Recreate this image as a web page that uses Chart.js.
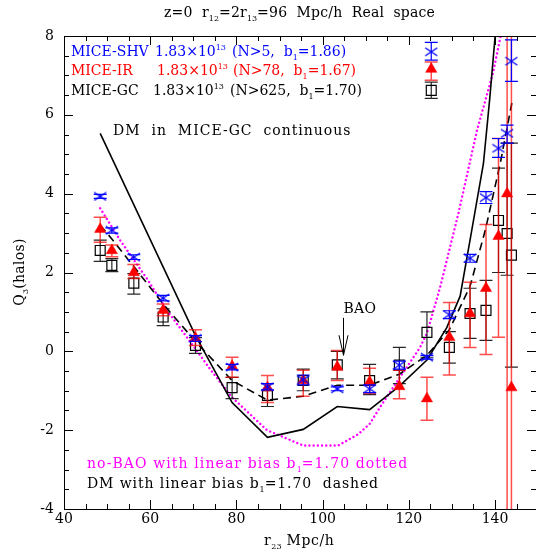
<!DOCTYPE html>
<html>
<head>
<meta charset="utf-8">
<script src="https://cdn.jsdelivr.net/npm/chart.js@4.4.1/dist/chart.umd.min.js"></script>
<style>
  html, body { margin: 0; padding: 0; background: #fff; overflow: hidden; }
  canvas { display: block; }
</style>
</head>
<body>
<canvas id="q3Chart" width="536" height="556"></canvas>
<script>
// r23 of each triangle configuration (Mpc/h), one per column of points
const r23 = [48.4, 51.1, 56.2, 63.0, 70.5, 79.0, 87.2, 95.5, 103.4, 110.9, 117.8, 124.2, 129.4, 134.2, 137.9, 140.8, 142.8, 143.8];

// MICE-SHV halos (blue crosses)
const shvQ3 = [3.93, 3.07, 2.39, 1.35, 0.33, -0.40, -0.90, -0.72, -0.95, -0.95, -0.35, -0.15, 0.93, 2.36, 3.90, 5.15, 5.53, 7.36];
const shvLo = [3.88, 3.00, 2.33, 1.28, 0.25, -0.47, -0.98, -0.85, -1.00, -1.05, -0.45, -0.20, 0.83, 2.26, 3.75, 4.92, 5.28, 6.85];
const shvHi = [3.98, 3.13, 2.45, 1.42, 0.40, -0.33, -0.82, -0.60, -0.90, -0.85, -0.25, -0.10, 1.03, 2.46, 4.05, 5.40, 5.74, 7.90];

// MICE-IR halos (red triangles)
const irQ3 = [3.10, 2.56, 2.00, 1.04, 0.33, -0.38, -0.92, -0.74, -0.40, -0.78, -0.89, -1.20, 0.36, 0.96, 1.60, 2.92, 4.00, -0.92];
const irLo = [2.77, 2.40, 1.85, 0.90, 0.15, -0.66, -1.30, -1.14, -0.74, -1.07, -1.20, -1.75, -0.60, 0.10, -0.08, 0.36, -20, -20];
const irHi = [3.40, 2.70, 2.20, 1.20, 0.55, -0.15, -0.61, -0.48, 0.02, -0.43, -0.48, -0.66, 1.24, 1.75, 3.22, 5.40, 20, 20];

// MICE-GC halos (black open squares)
const gcQ3 = [2.56, 2.18, 1.73, 0.87, 0.15, -0.92, -1.12, -0.74, -0.34, -0.74, -0.35, 0.48, 0.10, 0.96, 1.04, 3.32, 2.99, 2.44];
const gcLo = [2.28, 2.02, 1.45, 0.65, -0.05, -1.20, -1.40, -1.00, -0.70, -1.10, -0.82, -0.15, -0.30, 0.33, 0.28, 2.00, 1.93, -0.40];
const gcHi = [2.82, 2.35, 1.97, 1.08, 0.35, -0.66, -0.82, -0.45, 0.00, -0.33, 0.10, 1.00, 0.50, 1.60, 1.80, 4.65, 5.28, 5.28];

// symbols drawn as a key next to the legend text
const keyR23 = [125.2];
const keyShv = [7.60], keyShvLo = [7.39], keyShvHi = [7.84];
const keyIr = [7.16], keyIrLo = [6.88], keyIrHi = [7.34];
const keyGc = [6.62], keyGcLo = [6.42], keyGcHi = [6.83];

// DM in MICE-GC (solid)
const dmR23 = [48.4, 70.5, 79.0, 87.2, 95.5, 103.4, 110.9, 117.8, 124.2, 128.8, 131.9, 134.4, 137.3, 138.8, 140.1];
const dmQ3 = [5.53, 0.40, -1.30, -2.18, -1.98, -1.40, -1.48, -0.88, -0.22, 0.60, 1.40, 2.95, 4.76, 6.45, 8.10];

// DM with linear bias b1=1.70 (dashed)
const dmBiasR23 = [48.4, 51.1, 56.2, 63.0, 70.5, 79.0, 87.2, 95.5, 103.4, 110.9, 117.8, 124.2, 129.4, 134.2, 137.8, 141.2, 143.9];
const dmBiasQ3 = [3.20, 2.85, 2.15, 1.20, 0.25, -0.74, -1.24, -1.14, -0.86, -0.86, -0.58, -0.10, 0.55, 1.65, 3.10, 4.77, 6.30];

// no-BAO with linear bias b1=1.70 (dotted)
const noBaoR23 = [48.4, 53.0, 59.2, 63.9, 68.5, 73.9, 79.0, 87.1, 95.5, 103.6, 108.3, 111.0, 113.3, 117.7, 122.6, 124.2, 127.2, 131.5, 135.8, 139.5, 141.3];
const noBaoQ3 = [3.63, 2.82, 1.85, 1.04, 0.36, -0.45, -1.17, -2.00, -2.39, -2.39, -2.10, -1.83, -1.42, -0.70, 0.10, 0.46, 1.60, 3.50, 5.60, 7.05, 8.00];

// BAO arrow position (r23) and its top/bottom (Q3)
const baoR23 = 104.8, baoTop = 0.85, baoTip = -0.1;

// axes (the frame's right edge at r23=150 sits just past the canvas)
const xMin = 40, xMax = 149.5, yMin = -4, yMax = 8;
const xTicks = [40, 60, 80, 100, 120, 140];
const yTicks = [-4, -2, 0, 2, 4, 6, 8];

const FONT = 'DejaVu Serif';
const pts = (xs, ys) => xs.map((v, i) => ({ x: v, y: ys[i] }));

// flattened X used for the SHV points
function crossMark(color) {
    const c = document.createElement('canvas');
    c.width = 14; c.height = 10;
    const g = c.getContext('2d');
    g.strokeStyle = color; g.lineWidth = 1.4;
    g.beginPath();
    g.moveTo(1, 1); g.lineTo(13, 9);
    g.moveTo(13, 1); g.lineTo(1, 9);
    g.stroke();
    return c;
}
const blueX = crossMark('#0000ff');

// text with sub/superscripts: parts = [[text, ''|'sub'|'sup'], ...]
function setFont(ctx, k, size, ls) {
    ctx.font = (k ? Math.round(size * 0.6) : size) + 'px "' + FONT + '"';
    ctx.letterSpacing = (k ? 0 : ls) + 'px';
}
function richWidth(ctx, parts, size, ls = 0) {
    let w = 0;
    parts.forEach(([t, k]) => {
        setFont(ctx, k, size, ls);
        w += ctx.measureText(t).width;
    });
    ctx.letterSpacing = '0px';
    return w;
}
function rich(ctx, x, y, parts, size, color, ls = 0) {
    ctx.fillStyle = color;
    ctx.textAlign = 'left';
    ctx.textBaseline = 'alphabetic';
    parts.forEach(([t, k]) => {
        setFont(ctx, k, size, ls);
        const dy = k === 'sub' ? size * 0.3 : (k === 'sup' ? -size * 0.42 : 0);
        ctx.fillText(t, x, y + dy);
        x += ctx.measureText(t).width;
    });
    ctx.letterSpacing = '0px';
}

// frame: inward major/minor ticks on all four sides, placed with the scales
function drawFrame(chart) {
    const { ctx, scales: { x, y } } = chart;
    const L = Math.round(x.getPixelForValue(xMin)), R = Math.round(x.getPixelForValue(xMax));
    const T = Math.round(y.getPixelForValue(yMax)), B = Math.round(y.getPixelForValue(yMin));
    ctx.save();
    ctx.fillStyle = '#000';
    ctx.fillRect(L, T, R - L, 1);
    for (let v = 40; v <= xMax; v += 5) {
        const px = Math.round(x.getPixelForValue(v));
        const len = v % 20 === 0 ? 9 : 5;
        ctx.fillRect(px, B - len, 1, len);
        ctx.fillRect(px, T, 1, len);
    }
    for (let v = yMin; v <= yMax; v += 0.5) {
        const py = Math.round(y.getPixelForValue(v));
        const len = Math.abs(v % 2) < 1e-6 ? 9 : 5;
        ctx.fillRect(L, py, len, 1);
        ctx.fillRect(R - len, py, len, 1);
    }
    ctx.restore();
}

const decor = {
    id: 'decor',
    beforeDatasetDraw(chart, args) {
        const ds = chart.data.datasets[args.index];
        if (!ds.errLo) return;
        const { ctx, chartArea: a, scales: { x, y } } = chart;
        ctx.save();
        ctx.beginPath();
        ctx.rect(a.left, a.top, a.right - a.left, a.bottom - a.top);
        ctx.clip();
        ctx.strokeStyle = ds.errColor;
        ctx.lineWidth = ds.errWidth;
        const cap = 6.5;
        ds.data.forEach((p, i) => {
            const px = x.getPixelForValue(p.x);
            const lo = y.getPixelForValue(ds.errLo[i]);
            const hi = y.getPixelForValue(ds.errHi[i]);
            ctx.beginPath();
            ctx.moveTo(px, lo); ctx.lineTo(px, hi);
            ctx.moveTo(px - cap, lo); ctx.lineTo(px + cap, lo);
            ctx.moveTo(px - cap, hi); ctx.lineTo(px + cap, hi);
            ctx.stroke();
        });
        ctx.restore();
    },
    afterDraw(chart) {
        const { ctx, scales: { x, y } } = chart;
        drawFrame(chart);
        ctx.save();

        // BAO arrow
        ctx.strokeStyle = '#000';
        ctx.lineWidth = 1;
        const ax = Math.round(x.getPixelForValue(baoR23)) + 0.5;
        const aTop = y.getPixelForValue(baoTop), aBot = y.getPixelForValue(baoTip);
        ctx.beginPath();
        ctx.moveTo(ax, aTop); ctx.lineTo(ax, aBot);
        ctx.moveTo(ax - 4.5, aBot - 20); ctx.lineTo(ax, aBot); ctx.lineTo(ax + 4.5, aBot - 20);
        ctx.stroke();
        rich(ctx, ax, aTop - 5, [['BAO', '']], 14, '#000', 0.3);

        // title
        const title = [['z=0  r', ''], ['12', 'sub'], ['=2r', ''], ['13', 'sub'], ['=96  Mpc/h  Real  space', '']];
        rich(ctx, 164, 17, title, 14, '#000', 0.2);

        // legend text
        rich(ctx, 71, 56, [['MICE-SHV', '']], 14, '#0000ff');
        rich(ctx, 155, 56, [['1.83\u00d710', ''], ['13', 'sup']], 14, '#0000ff');
        rich(ctx, 232, 56, [['(N>5,  b', ''], ['1', 'sub'], ['=1.86)', '']], 14, '#0000ff');
        rich(ctx, 71, 75, [['MICE-IR', '']], 14, '#ff0000');
        rich(ctx, 157, 75, [['1.83\u00d710', ''], ['13', 'sup']], 14, '#ff0000');
        rich(ctx, 233, 75, [['(N>78,  b', ''], ['1', 'sub'], ['=1.67)', '']], 14, '#ff0000');
        rich(ctx, 71, 95, [['MICE-GC', '']], 14, '#000');
        rich(ctx, 153, 95, [['1.83\u00d710', ''], ['13', 'sup']], 14, '#000');
        rich(ctx, 230, 95, [['(N>625,  b', ''], ['1', 'sub'], ['=1.70)', '']], 14, '#000');

        rich(ctx, 113, 135, [['DM  in  MICE-GC  continuous', '']], 14, '#000', 1.0);
        rich(ctx, 87, 468, [['no-BAO with linear bias b', ''], ['1', 'sub'], ['=1.70 dotted', '']], 14, '#ff00ff', 1.1);
        rich(ctx, 87, 488, [['DM with linear bias b', ''], ['1', 'sub'], ['=1.70  dashed', '']], 14, '#000', 0.9);

        // axis titles
        const xt = [['r', ''], ['23', 'sub'], [' Mpc/h', '']];
        rich(ctx, 264, 545, xt, 14, '#000', 0.6);
        const yt = [['Q', ''], ['3', 'sub'], ['(halos)', '']];
        ctx.translate(24, 272);
        ctx.rotate(-Math.PI / 2);
        rich(ctx, -richWidth(ctx, yt, 14, 0.3) / 2, 0, yt, 14, '#000', 0.3);
        ctx.restore();
    }
};

function pointSet(label, xs, ys, lo, hi, style) {
    return Object.assign({
        label: label,
        data: pts(xs, ys),
        errLo: lo,
        errHi: hi,
        showLine: false
    }, style);
}
const shvStyle = { pointStyle: blueX, pointRadius: 7, errColor: '#0000ff', errWidth: 1.2 };
const irStyle = { pointStyle: 'triangle', pointRadius: 6.5, backgroundColor: '#ff0000', borderColor: '#ff0000', borderWidth: 0.5, errColor: 'rgba(255,0,0,0.7)', errWidth: 1.5 };
const gcStyle = { pointStyle: 'rect', pointRadius: 7, backgroundColor: 'rgba(0,0,0,0)', borderColor: '#000', borderWidth: 1.2, errColor: 'rgba(0,0,0,0.85)', errWidth: 1.2 };

// keep the plot box exactly where the layout padding puts it
function noPad(s) {
    s.paddingLeft = 0; s.paddingRight = 0; s.paddingTop = 0; s.paddingBottom = 0;
}

const ctx = document.getElementById('q3Chart').getContext('2d');
new Chart(ctx, {
    type: 'scatter',
    data: {
        datasets: [
            pointSet('MICE-SHV', r23, shvQ3, shvLo, shvHi, shvStyle),
            pointSet('MICE-SHV key', keyR23, keyShv, keyShvLo, keyShvHi, shvStyle),
            pointSet('MICE-IR', r23, irQ3, irLo, irHi, irStyle),
            pointSet('MICE-IR key', keyR23, keyIr, keyIrLo, keyIrHi, irStyle),
            pointSet('MICE-GC', r23, gcQ3, gcLo, gcHi, gcStyle),
            pointSet('MICE-GC key', keyR23, keyGc, keyGcLo, keyGcHi, gcStyle),
            {
                label: 'DM in MICE-GC',
                data: pts(dmR23, dmQ3),
                showLine: true, pointRadius: 0,
                borderColor: '#000', borderWidth: 1.6
            },
            {
                label: 'DM with linear bias',
                data: pts(dmBiasR23, dmBiasQ3),
                showLine: true, pointRadius: 0,
                borderColor: '#000', borderWidth: 1.6, borderDash: [8, 5]
            },
            {
                label: 'no-BAO with linear bias',
                data: pts(noBaoR23, noBaoQ3),
                showLine: true, pointRadius: 0,
                borderColor: '#ff00ff', borderWidth: 2.4,
                borderDash: [0.01, 4.2], borderCapStyle: 'round'
            }
        ]
    },
    options: {
        responsive: false,
        animation: false,
        devicePixelRatio: 1,
        layout: { autoPadding: false, padding: { top: 36, right: 0, bottom: 0, left: 0 } },
        plugins: { legend: { display: false }, tooltip: { enabled: false } },
        scales: {
            x: {
                type: 'linear', min: xMin, max: xMax,
                afterBuildTicks: s => { s.ticks = xTicks.map(v => ({ value: v })); },
                afterFit: s => { s.height = 47; noPad(s); },
                grid: { display: false, drawTicks: false },
                border: { display: true, color: '#000', width: 1 },
                ticks: { color: '#000', padding: 2, maxRotation: 0, font: { family: FONT, size: 14 } }
            },
            y: {
                type: 'linear', min: yMin, max: yMax,
                afterBuildTicks: s => { s.ticks = yTicks.map(v => ({ value: v })); },
                afterFit: s => { s.width = 64; noPad(s); },
                grid: { display: false, drawTicks: false },
                border: { display: true, color: '#000', width: 1 },
                ticks: { color: '#000', padding: 10, font: { family: FONT, size: 14 } }
            }
        }
    },
    plugins: [decor]
});
</script>
</body>
</html>
